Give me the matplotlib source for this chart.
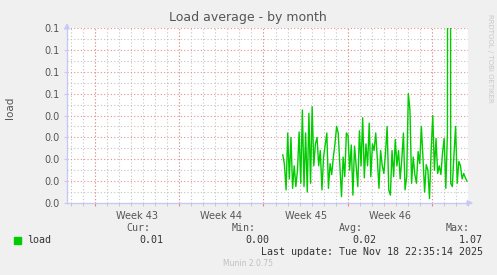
import numpy as np
import matplotlib
matplotlib.use("Agg")
import matplotlib.pyplot as plt
from matplotlib.ticker import FormatStrFormatter

# Dados (load average, amostras a partir do início da semana 45)
load = [
    0.022, 0.0175, 0.006, 0.032, 0.011, 0.030, 0.0067, 0.017, 0.0075, 0.015,
    0.0325, 0.009, 0.0425, 0.0075, 0.032, 0.005, 0.041, 0.009, 0.044, 0.017,
    0.027, 0.030, 0.017, 0.024, 0.006, 0.021, 0.0265, 0.032, 0.0067, 0.018,
    0.013, 0.021, 0.027, 0.035, 0.032, 0.017, 0.0029, 0.021, 0.012, 0.032,
    0.031, 0.015, 0.0265, 0.0036, 0.026, 0.017, 0.0075, 0.033, 0.017, 0.039,
    0.0115, 0.027, 0.017, 0.0365, 0.012, 0.027, 0.024, 0.032, 0.020, 0.0067,
    0.024, 0.017, 0.0135, 0.023, 0.035, 0.006, 0.0036, 0.024, 0.012, 0.029,
    0.017, 0.024, 0.011, 0.020, 0.032, 0.006, 0.012, 0.050, 0.0425, 0.009,
    0.021, 0.013, 0.009, 0.0235, 0.018, 0.035, 0.0205, 0.005, 0.0175, 0.015,
    0.002, 0.024, 0.040, 0.015, 0.0295, 0.0135, 0.017, 0.013, 0.023, 0.0295,
    0.0067, 0.032, 1.07, 0.009, 0.0075, 0.022, 0.035, 0.009, 0.019, 0.017,
    0.011, 0.0135, 0.0115, 0.010,
]
inicio_dados = 17.94   # dias desde a borda esquerda do gráfico
fim_dados = 33.25
semanas = ["Week 43", "Week 44", "Week 45", "Week 46"]
inicio_semanas = [2.333, 9.333, 16.333, 23.333, 30.333]
y_ticks = [0.0, 0.01, 0.02, 0.03, 0.04, 0.05, 0.06, 0.07, 0.08]

legenda = {"Cur:": "0.01", "Min:": "0.00", "Avg:": "0.02", "Max:": "1.07"}
ultima_atualizacao = "Last update: Tue Nov 18 22:35:14 2025"

FUNDO = "#F0F0F0"
VERDE = "#00CC00"
TEXTO = "#555555"
EIXO = "#C8C8F8"
GRADE = "#C4C4C4"
GRADE_PRINC = "#E89090"

W, H = 497, 275
fig = plt.figure(figsize=(W / 100, H / 100), dpi=100, facecolor=FUNDO)
ax = fig.add_axes([67 / W, (H - 203) / H, 401 / W, 175 / H])
ax.set_facecolor("white")

x_max = 400 / 12.0
ax.set_xlim(0, x_max)
ax.set_ylim(0, 0.08)

# Grade: secundária cinza, principal vermelha
dias = np.arange(inicio_semanas[0] - 2, x_max, 1.0)
estilo = (0, (1, 2))
for d in dias:
    ax.axvline(d, color=GRADE, lw=0.8, ls=estilo, zorder=1)
for d in inicio_semanas:
    ax.axvline(d, color=GRADE_PRINC, lw=0.8, ls=estilo, zorder=1.5)
for v in np.arange(0.005, 0.08, 0.01):
    ax.axhline(v, color=GRADE, lw=0.8, ls=estilo, zorder=1)
for v in y_ticks[1:]:
    ax.axhline(v, color=GRADE_PRINC, lw=0.8, ls=estilo, zorder=1.5)

# Série
t = np.linspace(inicio_dados, fim_dados, len(load))
ax.plot(t, load, color=VERDE, lw=1.0, zorder=3, clip_on=True)

# Eixos
for lado in ["top", "right"]:
    ax.spines[lado].set_visible(False)
for lado in ["left", "bottom"]:
    ax.spines[lado].set_color(EIXO)
    ax.spines[lado].set_linewidth(1.0)

ax.set_yticks(y_ticks)
ax.yaxis.set_major_formatter(FormatStrFormatter("%.1f"))
ax.tick_params(axis="y", colors=EIXO, labelcolor=TEXTO, labelsize=7, length=2, pad=3)

ax.set_xticks(inicio_semanas)
ax.set_xticklabels([])
ax.set_xticks(dias, minor=True)
ax.tick_params(axis="x", which="major", colors="#F08080", length=2)
ax.tick_params(axis="x", which="minor", colors="#C0C0C0", length=2)
for i, s in enumerate(semanas):
    meio = (inicio_semanas[i] + inicio_semanas[i + 1]) / 2
    ax.text(meio, -0.0035, s, ha="center", va="top", fontsize=7, color=TEXTO,
            transform=ax.transData, clip_on=False)

# Setas dos eixos
ax.annotate("", xy=(0, 1.045), xytext=(0, 0.99), xycoords="axes fraction",
            arrowprops=dict(arrowstyle="-|>", color=EIXO, lw=1, mutation_scale=8))
ax.annotate("", xy=(1.02, 0), xytext=(0.99, 0), xycoords="axes fraction",
            arrowprops=dict(arrowstyle="-|>", color=EIXO, lw=1, mutation_scale=8))

# Textos
fig.text(248 / W, 1 - 18 / H, "Load average - by month", ha="center", va="center",
         fontsize=9, color=TEXTO)
fig.text(10 / W, 1 - 108 / H, "load", ha="center", va="center", rotation=90,
         fontsize=7.5, color=TEXTO)
fig.text(490 / W, 1 - 58 / H, "RRDTOOL / TOBI OETIKER", ha="center", va="center",
         rotation=270, fontsize=5, color="#C8C8C8")

mono = "DejaVu Sans Mono"
fig.patches.append(plt.Rectangle((14 / W, 1 - 244 / H), 7 / W, 7 / H,
                                 transform=fig.transFigure, color=VERDE))
fig.text(27 / W, 1 - 240 / H, "load", ha="left", va="center", fontsize=7.2,
         family=mono, color="#333333")
posicoes = [150, 256, 363, 470]
for (rotulo, valor), px in zip(legenda.items(), posicoes):
    fig.text(px / W, 1 - 228 / H, rotulo, ha="right", va="center", fontsize=7.2,
             family=mono, color="#555555")
    fig.text((px + 13) / W, 1 - 240 / H, valor, ha="right", va="center", fontsize=7.2,
             family=mono, color="#333333")
fig.text(483 / W, 1 - 252 / H, ultima_atualizacao, ha="right", va="center",
         fontsize=7.2, family=mono, color="#333333")
fig.text(248 / W, 1 - 264 / H, "Munin 2.0.75", ha="center", va="center",
         fontsize=5.5, color="#C0C0C0")

fig.savefig("out.png", dpi=100, facecolor=FUNDO)
